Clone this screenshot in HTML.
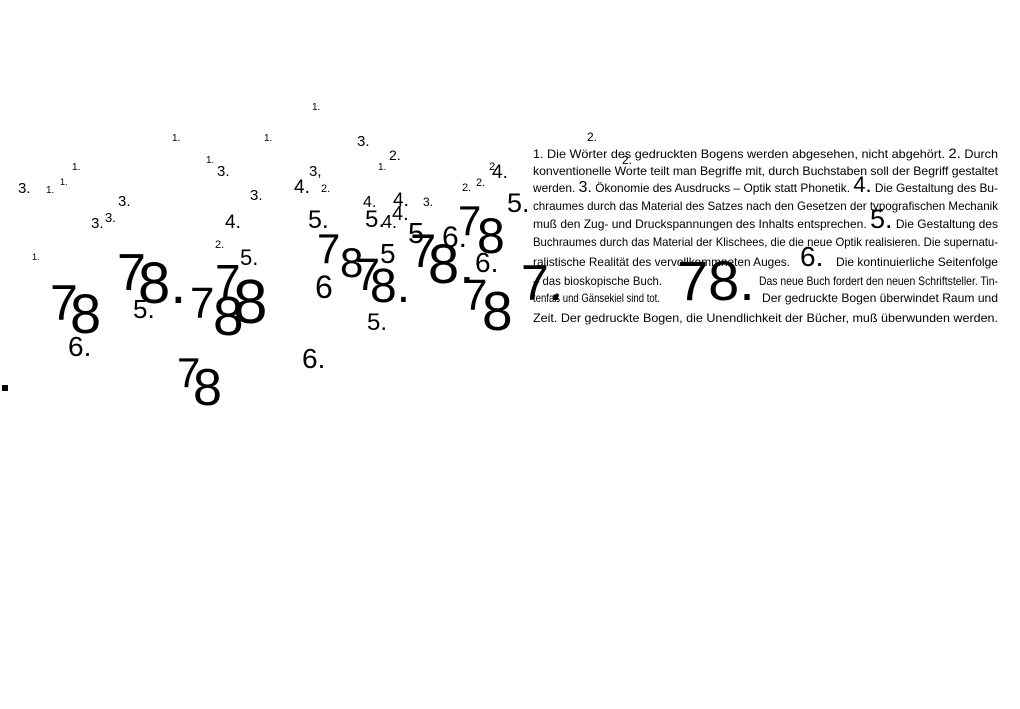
<!DOCTYPE html>
<html><head><meta charset="utf-8">
<style>
html,body{margin:0;padding:0;background:#fff;}
svg{display:block;}
text{font-family:"Liberation Sans",Arial,sans-serif;fill:#000;}
</style></head>
<body>
<svg id="chart" width="1020" height="709" viewBox="0 0 1020 709" xmlns="http://www.w3.org/2000/svg">
<rect width="1020" height="709" fill="#fff"/>
<g id="scatter"></g>
<g id="block">
  <text x="533" y="158" font-size="12" textLength="465" lengthAdjust="spacingAndGlyphs">1. Die Wörter des gedruckten Bogens werden abgesehen, nicht abgehört.  <tspan font-size="14">2.</tspan> Durch</text>
  <text x="533" y="175" font-size="12" textLength="465" lengthAdjust="spacingAndGlyphs">konventionelle Worte teilt man Begriffe mit, durch Buchstaben soll der Begriff gestaltet</text>
  <text x="533" y="192" font-size="12" textLength="465" lengthAdjust="spacingAndGlyphs">werden. <tspan font-size="16">3.</tspan> Ökonomie des Ausdrucks – Optik statt Phonetik. <tspan font-size="22">4.</tspan> Die Gestaltung des Bu-</text>
  <text x="533" y="210" font-size="12" textLength="465" lengthAdjust="spacingAndGlyphs">chraumes durch das Material des Satzes nach den Gesetzen der typografischen Mechanik</text>
  <text x="533" y="228" font-size="12" textLength="465" lengthAdjust="spacingAndGlyphs">muß den Zug- und Druckspannungen des Inhalts entsprechen. <tspan font-size="27">5.</tspan> Die Gestaltung des</text>
  <text x="533" y="246" font-size="12" textLength="465" lengthAdjust="spacingAndGlyphs">Buchraumes durch das Material der Klischees, die die neue Optik realisieren. Die supernatu-</text>
  <text x="533" y="266" font-size="12" textLength="257" lengthAdjust="spacingAndGlyphs">ralistische Realität des vervollkommneten Auges.</text>
  <text x="800" y="266" font-size="28">6.</text>
  <text x="836" y="266" font-size="12" textLength="162" lengthAdjust="spacingAndGlyphs">Die kontinuierliche Seitenfolge</text>
  <text x="533" y="285" font-size="12" textLength="129" lengthAdjust="spacingAndGlyphs">– das bioskopische Buch.</text>
  <text x="677" y="300" font-size="56">78.</text>
  <text x="759" y="285" font-size="12" textLength="239" lengthAdjust="spacingAndGlyphs">Das neue Buch fordert den neuen Schriftsteller. Tin-</text>
  <text x="533" y="302" font-size="12" textLength="127" lengthAdjust="spacingAndGlyphs">tenfaß und Gänsekiel sind tot.</text>
  <text x="762" y="302" font-size="12" textLength="236" lengthAdjust="spacingAndGlyphs">Der gedruckte Bogen überwindet Raum und</text>
  <text x="533" y="322" font-size="12" textLength="465" lengthAdjust="spacingAndGlyphs">Zeit. Der gedruckte Bogen, die Unendlichkeit der Bücher, muß überwunden werden.</text>
</g>
</svg>
<script>
// glyph data: label, x (left), baseline y, font size
const labels = ["1.","1.","1.","3.","2.","1.","1.","3.","3,","1.","2","4.","3.","1.","1.","3.","3.","4.","2.","2.","2.","4.","3.","5.","3.","3.","4.","5.","4.","4.","4.","7","8","7","6","8.","5","5","7","8.","6.","7","8","6.","7","8","7.","5.","5.","2.","5.","1.","7","8","5.","7","7","8","8","7","8","6.","7","8.","6.","2.","2."];
const xs = [312,172,264,357,389,72,206,217,309,378,489,492,18,46,60,118,250,294,321,462,476,393,423,308,91,105,225,365,382,392,363,317,340,355,315,370,380,408,410,428,442,458,477,475,463,482,521,507,367,215,240,32,50,70,133,190,215,213,233,177,193,68,117,138,302,587,622];
const ys = [110,141,141,146,160,170,163,176,176,170,170,178,193,193,185,206,200,193,192,191,186,206,206,228,228,222,228,227,228,220,207,263,277,290,298,302,263,243,267,283,247,235,253,272,310,330,300,212,330,248,265,260,320,333,318,318,297,335,323,387,405,356,290,303,368,141,164];
const sizes = [10,10,10,15,14,10,10,15,15,10,11,19,15,10,9,15,15,19,11,11,11,19,12,25,15,13,19,24,18,20,16,42,42,45,32,48,28,29,47,56,30,42,50,28,44,55,50,27,24,11,22,9,50,56,26,44,46,55,62,42,52,28,52,58,28,12,12];
const g = document.getElementById('scatter');
const NS = 'http://www.w3.org/2000/svg';
for (let i = 0; i < labels.length; i++) {
  const t = document.createElementNS(NS, 'text');
  t.setAttribute('x', xs[i]);
  t.setAttribute('y', ys[i]);
  t.setAttribute('font-size', sizes[i]);
  t.textContent = labels[i];
  
  
  g.appendChild(t);
}
const sq = document.createElementNS(NS, 'rect');
sq.setAttribute('x', 2); sq.setAttribute('y', 385);
sq.setAttribute('width', 6); sq.setAttribute('height', 6);


g.appendChild(sq);
</script>
</body></html>
